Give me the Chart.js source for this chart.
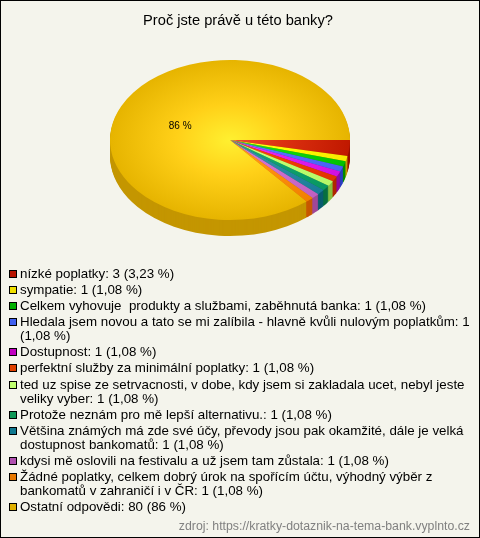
<!DOCTYPE html>
<html lang="cs">
<head>
<meta charset="utf-8">
<title>Proč jste právě u této banky?</title>
<script src="https://cdn.jsdelivr.net/npm/chart.js@4"></script>
<style>
html,body{margin:0;padding:0;background:#f4f4ec;}
#wrap{position:relative;width:480px;height:538px;box-sizing:border-box;overflow:hidden;background:#f4f4ec;font-family:"Liberation Sans",Arial,sans-serif;color:#000;}
#frame{position:absolute;left:0;top:0;width:480px;height:538px;box-sizing:border-box;border:1px solid #000;pointer-events:none;}
canvas{position:absolute;left:0;top:0;}
#title{position:absolute;left:0;width:476px;top:12px;text-align:center;font-size:14.67px;line-height:16px;}
#legend{position:absolute;left:8px;top:267px;width:466px;font-size:13.33px;line-height:14px;white-space:pre-wrap;}
.it{position:relative;padding-left:12px;margin-bottom:2.1px;}
.it i{position:absolute;left:1px;top:3px;width:6px;height:6px;border:1px solid #000;}
#source{position:absolute;right:10px;top:519px;font-size:12.3px;line-height:14px;color:#808080;}
</style>
</head>
<body>
<div id="wrap">
<canvas id="c" width="480" height="538"></canvas>
<div id="title"></div>
<div id="legend"></div>
<div id="source"></div>
<div id="frame"></div>
</div>
<script>
const chartTitle = "Proč jste právě u této banky?";
const sourceText = "zdroj: https://kratky-dotaznik-na-tema-bank.vyplnto.cz";
const categories = [
  "nízké poplatky",
  "sympatie",
  "Celkem vyhovuje  produkty a službami, zaběhnutá banka",
  "Hledala jsem novou a tato se mi zalíbila - hlavně kvůli nulovým poplatkům",
  "Dostupnost",
  "perfektní služby za minimální poplatky",
  "ted uz spise ze setrvacnosti, v dobe, kdy jsem si zakladala ucet, nebyl jeste veliky vyber",
  "Protože neznám pro mě lepší alternativu.",
  "Většina známých má zde své účy, převody jsou pak okamžité, dále je velká dostupnost bankomatů",
  "kdysi mě oslovili na festivalu a už jsem tam zůstala",
  "Žádné poplatky, celkem dobrý úrok na spořícím účtu, výhodný výběr z bankomatů v zahraničí i v ČR",
  "Ostatní odpovědi"
];
const values = [3,1,1,1,1,1,1,1,1,1,1,80];
const percents = ["3,23 %","1,08 %","1,08 %","1,08 %","1,08 %","1,08 %","1,08 %","1,08 %","1,08 %","1,08 %","1,08 %","86 %"];
const legendColors = ["#b81400","#f0e000","#00b000","#4060f0","#c000c0","#e04000","#c0ff70","#109858","#107890","#b050b0","#e87800","#e0b000"];
const centerColors = ["#f04a30","#ffff30","#20e820","#6a88ff","#f040f8","#ff5010","#d0ff80","#20b070","#3898b0","#d878d8","#ff9c20","#fff030"];
const midColors = ["#dc3010","#ffff00","#10d410","#5070ff","#e020f0","#f04000","#c0ff70","#10a070","#2c8ca4","#d070d0","#ff9010","#ffd018"];
const edgeColors = ["#c01800","#f8e800","#00c000","#4860f0","#d010e0","#e03400","#b4f868","#089860","#187c98","#c060c0","#f08000","#e6b400"];
const rimColors = ["#980f00","#c0a000","#008a00","#2a3ec0","#9008a0","#b02800","#88c040","#087040","#085c70","#a04898","#c85800","#c49600"];
const dataLabels = ["","","","","","","","","","","","86 %"];

const TILT = 2/3, DEPTH = 16;
function tilt(ctx, chart){
  const a = chart.chartArea, cy = (a.top + a.bottom) / 2;
  ctx.translate(0, cy); ctx.scale(1, TILT); ctx.translate(0, -cy);
}
const pie3d = {
  id: 'pie3d',
  beforeDatasetsDraw(chart){
    const ctx = chart.ctx, arcs = chart.getDatasetMeta(0).data;
    for (let d = DEPTH; d >= 1; d--) {
      ctx.save();
      ctx.translate(0, d);
      tilt(ctx, chart);
      arcs.forEach((el, i) => {
        const o = el.options;
        el.options = Object.assign({}, o, {backgroundColor: rimColors[i], borderWidth: 0});
        el.draw(ctx);
        el.options = o;
      });
      ctx.restore();
    }
    ctx.save();
    tilt(ctx, chart);
  },
  afterDatasetsDraw(chart){
    const ctx = chart.ctx, arcs = chart.getDatasetMeta(0).data;
    ctx.restore();
    const a = chart.chartArea, cy = (a.top + a.bottom) / 2;
    ctx.save();
    ctx.font = '10px "Liberation Sans", Arial, sans-serif';
    ctx.fillStyle = '#000';
    ctx.textAlign = 'center';
    ctx.textBaseline = 'middle';
    arcs.forEach((el, i) => {
      if (!dataLabels[i]) return;
      const p = el.getProps(['startAngle','endAngle','x','y','outerRadius'], true);
      const m = (p.startAngle + p.endAngle) / 2, r = p.outerRadius * 0.45;
      ctx.fillText(dataLabels[i], p.x + Math.cos(m) * r - 1, cy + Math.sin(m) * r * TILT + 2);
    });
    ctx.restore();
  }
};

document.getElementById('title').textContent = chartTitle;
document.getElementById('source').textContent = sourceText;
const legend = document.getElementById('legend');
categories.forEach((c, i) => {
  const d = document.createElement('div'); d.className = 'it';
  const s = document.createElement('i'); s.style.background = legendColors[i];
  d.appendChild(s);
  d.appendChild(document.createTextNode(c + ': ' + values[i] + ' (' + percents[i] + ')'));
  legend.appendChild(d);
});

new Chart(document.getElementById('c'), {
  type: 'pie',
  data: {
    labels: categories,
    datasets: [{
      data: values,
      borderWidth: 0,
      backgroundColor(ctx){
        const chart = ctx.chart, a = chart.chartArea, i = ctx.dataIndex;
        if (!a) return edgeColors[i];
        const x = (a.left + a.right) / 2, y = (a.top + a.bottom) / 2, r = (a.right - a.left) / 2;
        const g = chart.ctx.createRadialGradient(x, y, 0, x, y, r);
        g.addColorStop(0, centerColors[i]);
        g.addColorStop(0.45, midColors[i]);
        g.addColorStop(1, edgeColors[i]);
        return g;
      }
    }]
  },
  options: {
    responsive: false,
    animation: false,
    rotation: 90,
    layout: {padding: {left: 110, right: 130, top: 20, bottom: 278}},
    plugins: {legend: {display: false}, title: {display: false}, tooltip: {enabled: false}}
  },
  plugins: [pie3d]
});
</script>
</body>
</html>
